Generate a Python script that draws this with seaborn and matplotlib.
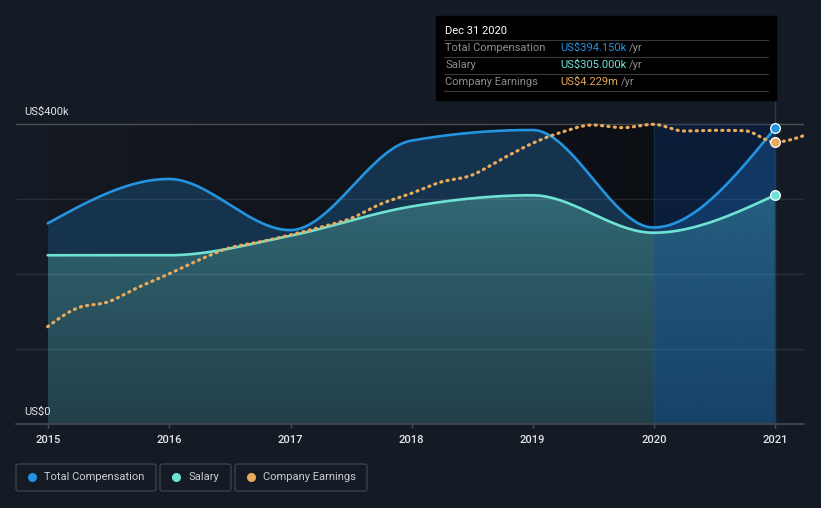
import numpy as np
import pandas as pd
import matplotlib
matplotlib.use("Agg")
import matplotlib.pyplot as plt
import matplotlib.dates as mdates
import seaborn as sns
from matplotlib.patches import FancyBboxPatch, Rectangle
from matplotlib.lines import Line2D

# ---------------- data ----------------
comp_dates = ["2014-12-31", "2015-12-31", "2016-12-31", "2017-12-31",
              "2018-12-31", "2019-12-31", "2020-12-31"]
total_comp_k = [267.5, 326.7, 258.5, 377.8, 392.0, 262.0, 394.15]
salary_k = [225.0, 225.0, 251.0, 290.0, 305.0, 255.0, 305.0]

earn_dates = list(pd.date_range("2014-12-31", periods=26, freq="QE").strftime("%Y-%m-%d"))
earnings_m = [1.46, 1.74, 1.83, 2.05, 2.25, 2.46, 2.64, 2.73, 2.835, 2.95, 3.08, 3.30,
              3.46, 3.63, 3.73, 3.975, 4.21, 4.38, 4.485, 4.445, 4.495, 4.395, 4.405,
              4.40, 4.229, 4.33]

year_ticks = [2015, 2016, 2017, 2018, 2019, 2020, 2021]
y_tick_values = [0, 400]
y_tick_labels = ["US$0", "US$400k"]

legend_labels = ["Total Compensation", "Salary", "Company Earnings"]
tooltip_title = "Dec 31 2020"
tooltip_rows = [("Total Compensation", "US$394.150k"), ("Salary", "US$305.000k"),
                ("Company Earnings", "US$4.229m")]

# ---------------- style ----------------
BG = "#151b24"
C_TOTAL = "#2394df"
C_SAL = "#6fe3d3"
C_EARN = "#e9aa5c"
TXT = "#e4e6e8"

sns.set_theme(style="dark")
plt.rcParams["font.family"] = ["Roboto", "DejaVu Sans"]

W, H = 821, 508
fig = plt.figure(figsize=(W / 100, H / 100), dpi=100, facecolor=BG)


def fx(px):
    return px / W


def fy(py):
    return 1 - py / H


ax = fig.add_axes([fx(16), fy(424), (804 - 16) / W, (424 - 100) / H])
ax.set_facecolor((0, 0, 0, 0))
for s in ax.spines.values():
    s.set_visible(False)

n2015 = mdates.date2num(pd.Timestamp("2015-01-01"))
px_per_year = 121.17
xl = n2015 + (16 - 48) / px_per_year * 365.25
xr = n2015 + (804 - 48) / px_per_year * 365.25
YTOP = 400 * 324 / 300
ax.set_xlim(xl, xr)
ax.set_ylim(0, YTOP)


def monotone(x, y, n=60):
    """d3-style monotone cubic (curveMonotoneX) for drawing smooth lines."""
    x = np.asarray(x, float)
    y = np.asarray(y, float)
    h = np.diff(x)
    s = np.diff(y) / h
    m = np.zeros_like(y)
    for i in range(1, len(x) - 1):
        s0, s1 = s[i - 1], s[i]
        p = (s0 * h[i] + s1 * h[i - 1]) / (h[i - 1] + h[i])
        m[i] = (np.sign(s0) + np.sign(s1)) * min(abs(s0), abs(s1), 0.5 * abs(p))
    m[0] = (3 * s[0] - m[1]) / 2 if len(x) > 2 else s[0]
    m[-1] = (3 * s[-1] - m[-2]) / 2 if len(x) > 2 else s[-1]
    xs, ys = [], []
    for i in range(len(x) - 1):
        t = np.linspace(0, 1, n, endpoint=(i == len(x) - 2))
        h00 = 2 * t**3 - 3 * t**2 + 1
        h10 = t**3 - 2 * t**2 + t
        h01 = -2 * t**3 + 3 * t**2
        h11 = t**3 - t**2
        xs.append(x[i] + t * h[i])
        ys.append(h00 * y[i] + h10 * h[i] * m[i] + h01 * y[i + 1] + h11 * h[i] * m[i + 1])
    return np.concatenate(xs), np.concatenate(ys)


cx = mdates.date2num(pd.to_datetime(comp_dates))
ex = mdates.date2num(pd.to_datetime(earn_dates))
tx, ty = monotone(cx, total_comp_k)
sx, sy = monotone(cx, salary_k)
ex2, ey2 = monotone(ex, earnings_m)

x2020 = mdates.date2num(pd.Timestamp("2020-01-01"))
x2021 = mdates.date2num(pd.Timestamp("2021-01-01"))

# dark plot background gradient (2015 -> 2020), below the top gridline only
g = np.linspace(0, 1, 256) ** 1.3
c0 = np.array([0x13, 0x18, 0x21]) / 255
c1 = np.array([0x0c, 0x0f, 0x14]) / 255
bg_grad = np.zeros((1, 256, 4))
bg_grad[0, :, :3] = c0 + (c1 - c0) * g[:, None]
bg_grad[0, :, 3] = 1
ax.imshow(bg_grad, extent=[cx[0], x2020, 0, 400], aspect="auto", zorder=0,
          interpolation="bilinear")
ax.add_patch(Rectangle((x2020, 0), x2021 - x2020, 400, color="#0c0f14", zorder=0.1, lw=0))

# total comp fill
ax.fill_between(tx, 0, ty, color="#16334e", lw=0, zorder=1)

# salary fill with vertical gradient
poly = ax.fill_between(sx, 0, sy, color="none", lw=0, zorder=1.5)
top_c = np.array([0x31, 0x68, 0x74]) / 255
bot_c = np.array([0x22, 0x3f, 0x4a]) / 255
vg = np.linspace(1, 0, 256)
sal_grad = np.zeros((256, 1, 4))
sal_grad[:, 0, :3] = bot_c + (top_c - bot_c) * vg[:, None]
sal_grad[:, 0, 3] = 1
im = ax.imshow(sal_grad, extent=[cx[0], cx[-1], 0, 310], aspect="auto", zorder=1.6,
               interpolation="bilinear")
im.set_clip_path(poly.get_paths()[0], ax.transData)

# grid lines
for v in [100, 200, 300]:
    ax.axhline(v, color="white", alpha=0.09, lw=1, zorder=2.5)
ax.axhline(400, color="white", alpha=0.24, lw=1, zorder=2.5)

# highlighted last period column
col = np.zeros((256, 1, 4))
col[:, 0, :3] = np.array([0x05, 0x48, 0xa5]) / 255
col[:, 0, 3] = np.linspace(0.24, 0.33, 256)
ax.imshow(col, extent=[x2020, x2021, 0, 400], aspect="auto", zorder=3,
          interpolation="bilinear")
ax.plot([x2021, x2021], [0, YTOP], color="#213a58", lw=1, zorder=3.2)
ax.plot([x2020, x2020], [0, 400], color="#3a6aa0", alpha=0.18, lw=1, zorder=3.1)

# lines
sns.lineplot(x=tx, y=ty, ax=ax, color=C_TOTAL, lw=1.9, zorder=4, estimator=None,
             sort=False)
sns.lineplot(x=sx, y=sy, ax=ax, color=C_SAL, lw=1.9, zorder=4, estimator=None,
             sort=False)
ax.plot([cx[-1]], [total_comp_k[-1]], "o", ms=7, mfc=C_TOTAL, mec="white", mew=0.9,
        zorder=6)
ax.plot([cx[-1]], [salary_k[-1]], "o", ms=7, mfc=C_SAL, mec="white", mew=0.9, zorder=6)

# earnings on a hidden twin axis
ax2 = ax.twinx()
ax2.set_ylim(0, 4.5 * YTOP / 400)
ax2.set_xlim(xl, xr)
ax2.axis("off")
sns.lineplot(x=ex2, y=ey2, ax=ax2, color=C_EARN, lw=2.3, estimator=None, sort=False,
             zorder=5)
ax2.lines[-1].set_dashes((0.35, 1.65))
ax2.lines[-1].set_dash_capstyle("round")
ei = earn_dates.index("2020-12-31")
ax2.plot([ex[ei]], [earnings_m[ei]], "o", ms=7, mfc=C_EARN, mec="white", mew=0.9,
         zorder=6)

# axes decorations
ax.axhline(0, color="#3d434c", lw=1.5, zorder=7, clip_on=False)
tick_pos = [mdates.date2num(pd.Timestamp(f"{y}-01-01")) for y in year_ticks]
ax.set_xticks(tick_pos)
ax.set_xticklabels([str(y) for y in year_ticks], color=TXT, fontsize=8,
                   fontweight="medium")
ax.tick_params(axis="x", length=3, width=1, color="#4a4f58", pad=5, bottom=True)
ax.set_yticks([])
ax.grid(False)
for v, lab in zip(y_tick_values, y_tick_labels):
    ypx = 424 - v * 0.75 - 12
    fig.text(fx(24), fy(ypx), lab, fontsize=8, color=TXT, va="center", ha="left")

# tooltip
fig.add_artist(Rectangle((fx(436), fy(100)), (776 - 436) / W, (100 - 16) / H,
                         transform=fig.transFigure, color="black", zorder=10))
fig.text(fx(445), fy(31), tooltip_title, color="white", fontsize=8, va="center",
         zorder=11)
for yy in [40, 57, 74, 91]:
    fig.add_artist(Line2D([fx(444), fx(768)], [fy(yy), fy(yy)], color="#3a3a3a", lw=0.8,
                          transform=fig.transFigure, zorder=11))
vcolors = [C_TOTAL, C_SAL, C_EARN]
renderer = fig.canvas.get_renderer()
for i, (lab, val) in enumerate(tooltip_rows):
    yy = fy(48 + 17 * i)
    fig.text(fx(445), yy, lab, color="#8e8e8e", fontsize=8, va="center", zorder=11)
    t = fig.text(fx(560), yy, val, color=vcolors[i], fontsize=8, va="center", zorder=11)
    bb = t.get_window_extent(renderer)
    fig.text(bb.x1 / fig.bbox.width + fx(3), yy, "/yr", color="#8e8e8e", fontsize=8,
             va="center", zorder=11)

# legend boxes
boxes = [(16, 156), (160, 231), (235, 367)]
for (x0, x1), lab, c in zip(boxes, legend_labels, vcolors):
    fig.add_artist(FancyBboxPatch((fx(x0), fy(491)), (x1 - x0) / W, 27 / H,
                                  boxstyle="round,pad=0,rounding_size=0.004",
                                  transform=fig.transFigure, fc="none", ec="#3b414a",
                                  lw=1))
    fig.add_artist(Line2D([fx(x0 + 16)], [fy(477)], marker="o", ms=5.5, color=c,
                          transform=fig.transFigure))
    fig.text(fx(x0 + 28), fy(477), lab, color="#c9ccd1", fontsize=8, va="center")

fig.savefig("out.png", dpi=100, facecolor=BG)
